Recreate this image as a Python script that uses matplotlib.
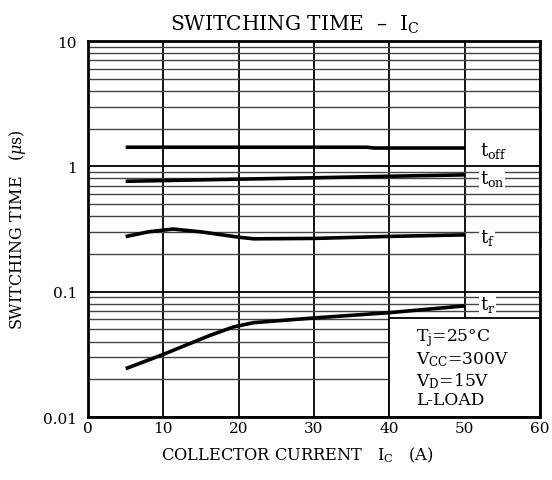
import matplotlib
matplotlib.use('Agg')
import matplotlib.pyplot as plt
from matplotlib.ticker import LogLocator, FixedLocator, NullFormatter

plt.rcParams['font.family'] = ['DejaVu Serif']
plt.rcParams['mathtext.fontset'] = 'dejavuserif'

# ── data ────────────────────────────────────────────────────────
ic_off = [5, 15, 25, 37, 38, 50]
t_off = [1.42, 1.42, 1.42, 1.42, 1.40, 1.40]

ic_on = [5, 10, 20, 30, 43, 50]
t_on = [0.76, 0.77, 0.79, 0.81, 0.84, 0.855]

ic_f = [5, 8, 11.3, 15, 20, 22, 30, 40, 50]
t_f = [0.275, 0.30, 0.316, 0.30, 0.272, 0.264, 0.266, 0.276, 0.284]

ic_r = [5, 10, 13.5, 16.2, 19.3, 22, 30, 40, 50]
t_r = [0.0243, 0.0316, 0.0385, 0.0448, 0.0523, 0.0566, 0.0617, 0.068, 0.077]

series = [(ic_off, t_off, 't$_{\\mathregular{off}}$', 1.35),
          (ic_on, t_on, 't$_{\\mathregular{on}}$', 0.80),
          (ic_f, t_f, 't$_{\\mathregular{f}}$', 0.275),
          (ic_r, t_r, 't$_{\\mathregular{r}}$', 0.080)]

fig = plt.figure(figsize=(5.52, 4.81), dpi=100)
ax = fig.add_axes([88/552, 1-418/481, 452/552, 376/481])

ax.set_yscale('log')
ax.set_xlim(0, 60)
ax.set_ylim(0.01, 10)

ax.xaxis.set_major_locator(FixedLocator([0, 10, 20, 30, 40, 50, 60]))
ax.yaxis.set_major_locator(FixedLocator([0.01, 0.1, 1, 10]))
ax.yaxis.set_major_formatter(plt.FuncFormatter(lambda v, p: {0.01: '0.01', 0.1: '0.1', 1: '1', 10: '10'}.get(v, '')))
ax.yaxis.set_minor_locator(LogLocator(base=10, subs=range(2, 10)))
ax.yaxis.set_minor_formatter(NullFormatter())
ax.tick_params(which='both', length=0, labelsize=11, pad=3)
ax.tick_params(axis='y', pad=8)

ax.set_axisbelow(True)
ax.grid(axis='x', which='major', color='black', lw=1.3)
ax.grid(axis='y', which='major', color='black', lw=1.3)
ax.grid(axis='y', which='minor', color='#444444', lw=1.0)

for s in ax.spines.values():
    s.set_linewidth(2)

# condition box (bottom right)
ax.add_patch(plt.Rectangle((40, 0.01), 20, 0.052, fc='white', ec='black',
                           lw=1.3, zorder=1.5))
ax.text(43.5, 0.025, 'T$_\\mathregular{j}$=25°C\nV$_\\mathregular{CC}$=300V\n'
        'V$_\\mathregular{D}$=15V\nL-LOAD', ha='left', va='center',
        fontsize=12.3, linespacing=1.1, zorder=4)

for x, y, lab, ly in series:
    ax.plot(x, y, color='black', lw=2.6, zorder=3, solid_capstyle='butt')
    ax.text(52.0, ly, lab, ha='left', va='center', fontsize=13, zorder=4,
            bbox=dict(fc='white', ec='none', pad=0.5))

fig.text(0.534, 1-25/481, 'SWITCHING TIME  –  I$_\\mathregular{C}$',
         ha='center', va='center', fontsize=14.5)
fig.text(0.538, 1-455/481, 'COLLECTOR CURRENT   I$_\\mathregular{C}$   (A)',
         ha='center', va='center', fontsize=11.7)
fig.text(18/552, 1-230/481, 'SWITCHING TIME   ($\\mathit{\\mu}$s)',
         ha='center', va='center', rotation=90, fontsize=11.5)

fig.savefig('out.png', dpi=100, facecolor='white')
